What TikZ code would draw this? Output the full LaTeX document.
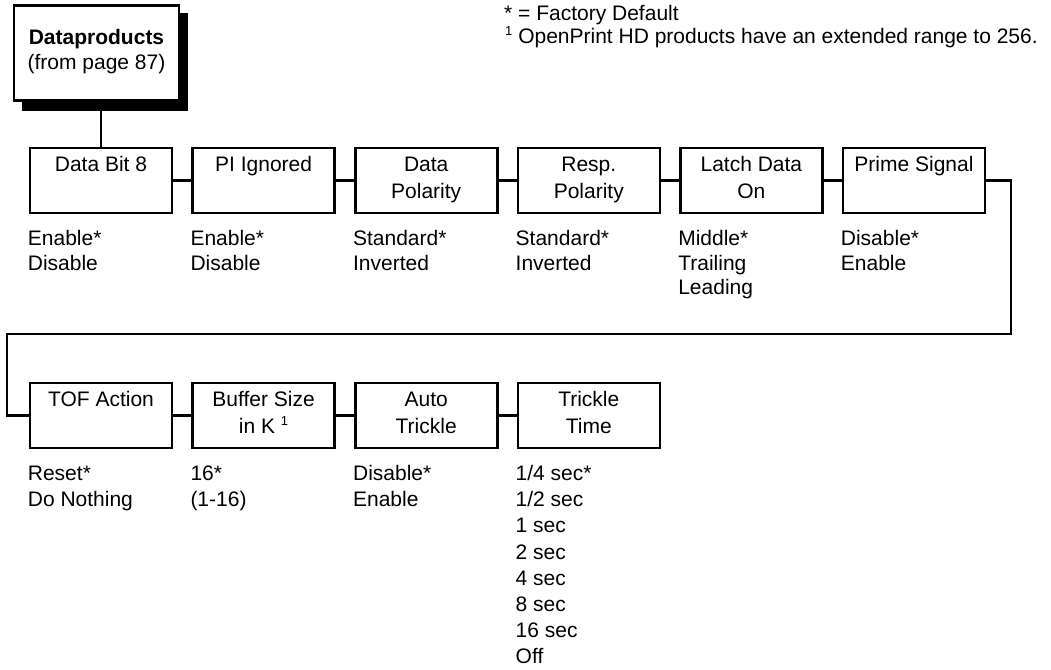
\documentclass[tikz,border=0pt]{standalone}
\usepackage{fontspec}
\setmainfont{Liberation Sans}
\newcommand\mybx{\fontsize{21}{27}\selectfont}
\newcommand\mytop{\fontsize{21}{25}\selectfont}
\newcommand\myvl{\fontsize{21}{26.2}\selectfont}
\newcommand\myvla{\fontsize{21}{24.5}\selectfont}
\newcommand\myfn{\fontsize{21}{22.5}\selectfont}
\newcommand\mysup{\raisebox{8pt}{\fontsize{13}{13}\selectfont 1}}
\begin{document}
\begin{tikzpicture}[x=1pt,y=-1pt,
  box/.style={draw,line width=2.6pt,minimum width=142pt,minimum height=65pt,inner sep=0pt},
  ttl/.style={anchor=north,align=center,inner sep=0pt,font=\mybx},
  vals/.style={anchor=north west,align=left,inner sep=0pt,font=\myvl},
  valsa/.style={vals,font=\myvla},
  conn/.style={line width=2.6pt},
  foot/.style={anchor=base west,inner sep=0pt,font=\myfn}]
\useasboundingbox (0,0) rectangle (1051,669);
% top box with shadow
\fill[black] (22,13) rectangle (188,111);
\node[box,fill=white,minimum width=165pt,minimum height=95pt] (dp) at (96.5,53) {};
\node[ttl,font=\mytop] (dpt) at (96.5,26.5) {\strut\textbf{Dataproducts}\\\strut(from page 87)};
% footnotes
\node[foot] (fn1) at (504,21) {* = Factory Default};
\node[foot] (fn2) at (505,43.3) {\mysup\ OpenPrint HD products have an extended range to 256.};
% row 1
\node[box] (b1) at (101,180.5) {};
\node[box] (b2) at (263.6,180.5) {};
\node[box] (b3) at (426.2,180.5) {};
\node[box] (b4) at (588.8,180.5) {};
\node[box] (b5) at (751.4,180.5) {};
\node[box] (b6) at (914,180.5) {};
\node[ttl] (t1) at ([yshift=-5.6pt]b1.north) {\strut Data Bit 8};
\node[ttl] (t2) at ([yshift=-5.6pt]b2.north) {\strut PI Ignored};
\node[ttl] (t3) at ([yshift=-5.6pt]b3.north) {\strut Data\\\strut Polarity};
\node[ttl] (t4) at ([yshift=-5.6pt]b4.north) {\strut Resp.\\\strut Polarity};
\node[ttl] (t5) at ([yshift=-5.6pt]b5.north) {\strut Latch Data\\\strut On};
\node[ttl] (t6) at ([yshift=-5.6pt]b6.north) {\strut Prime Signal};
\node[valsa] (v1) at ([xshift=-1pt,yshift=-14pt]b1.south west) {\strut Enable*\\\strut Disable};
\node[valsa] (v2) at ([xshift=-1pt,yshift=-14pt]b2.south west) {\strut Enable*\\\strut Disable};
\node[valsa] (v3) at ([xshift=-1pt,yshift=-14pt]b3.south west) {\strut Standard*\\\strut Inverted};
\node[valsa] (v4) at ([xshift=-1pt,yshift=-14pt]b4.south west) {\strut Standard*\\\strut Inverted};
\node[valsa] (v5) at ([xshift=-1pt,yshift=-14pt]b5.south west) {\strut Middle*\\\strut Trailing\\\strut Leading};
\node[valsa] (v6) at ([xshift=-1pt,yshift=-14pt]b6.south west) {\strut Disable*\\\strut Enable};
% row 2
\node[box] (c1) at (101,415.5) {};
\node[box] (c2) at (263.6,415.5) {};
\node[box] (c3) at (426.2,415.5) {};
\node[box] (c4) at (588.8,415.5) {};
\node[ttl] (s1) at ([yshift=-5.6pt]c1.north) {\strut TOF Action};
\node[ttl] (s2) at ([yshift=-5.6pt]c2.north) {\strut Buffer Size\\\strut in K \mysup};
\node[ttl] (s3) at ([yshift=-5.6pt]c3.north) {\strut Auto\\\strut Trickle};
\node[ttl] (s4) at ([yshift=-5.6pt]c4.north) {\strut Trickle\\\strut Time};
\node[vals] (w1) at ([xshift=-1pt,yshift=-12.7pt]c1.south west) {\strut Reset*\\\strut Do Nothing};
\node[vals] (w2) at ([xshift=-1pt,yshift=-12.7pt]c2.south west) {\strut 16*\\\strut (1-16)};
\node[vals] (w3) at ([xshift=-1pt,yshift=-12.7pt]c3.south west) {\strut Disable*\\\strut Enable};
\node[vals] (w4) at ([xshift=-1pt,yshift=-12.7pt]c4.south west) {\strut 1/4 sec*\\\strut 1/2 sec\\\strut 1 sec\\\strut 2 sec\\\strut 4 sec\\\strut 8 sec\\\strut 16 sec\\\strut Off};
% connectors
\draw[conn] (b1.north) -- (b1.north |- dp.south);
\draw[conn] (b1.east) -- (b2.west);
\draw[conn] (b2.east) -- (b3.west);
\draw[conn] (b3.east) -- (b4.west);
\draw[conn] (b4.east) -- (b5.west);
\draw[conn] (b5.east) -- (b6.west);
\coordinate (wA) at (1011,334);
\coordinate (wB) at (7,334);
\draw[conn] (b6.east) -| (wA) -- (wB) |- (c1.west);
\draw[conn] (c1.east) -- (c2.west);
\draw[conn] (c2.east) -- (c3.west);
\draw[conn] (c3.east) -- (c4.west);
\end{tikzpicture}
\end{document}
